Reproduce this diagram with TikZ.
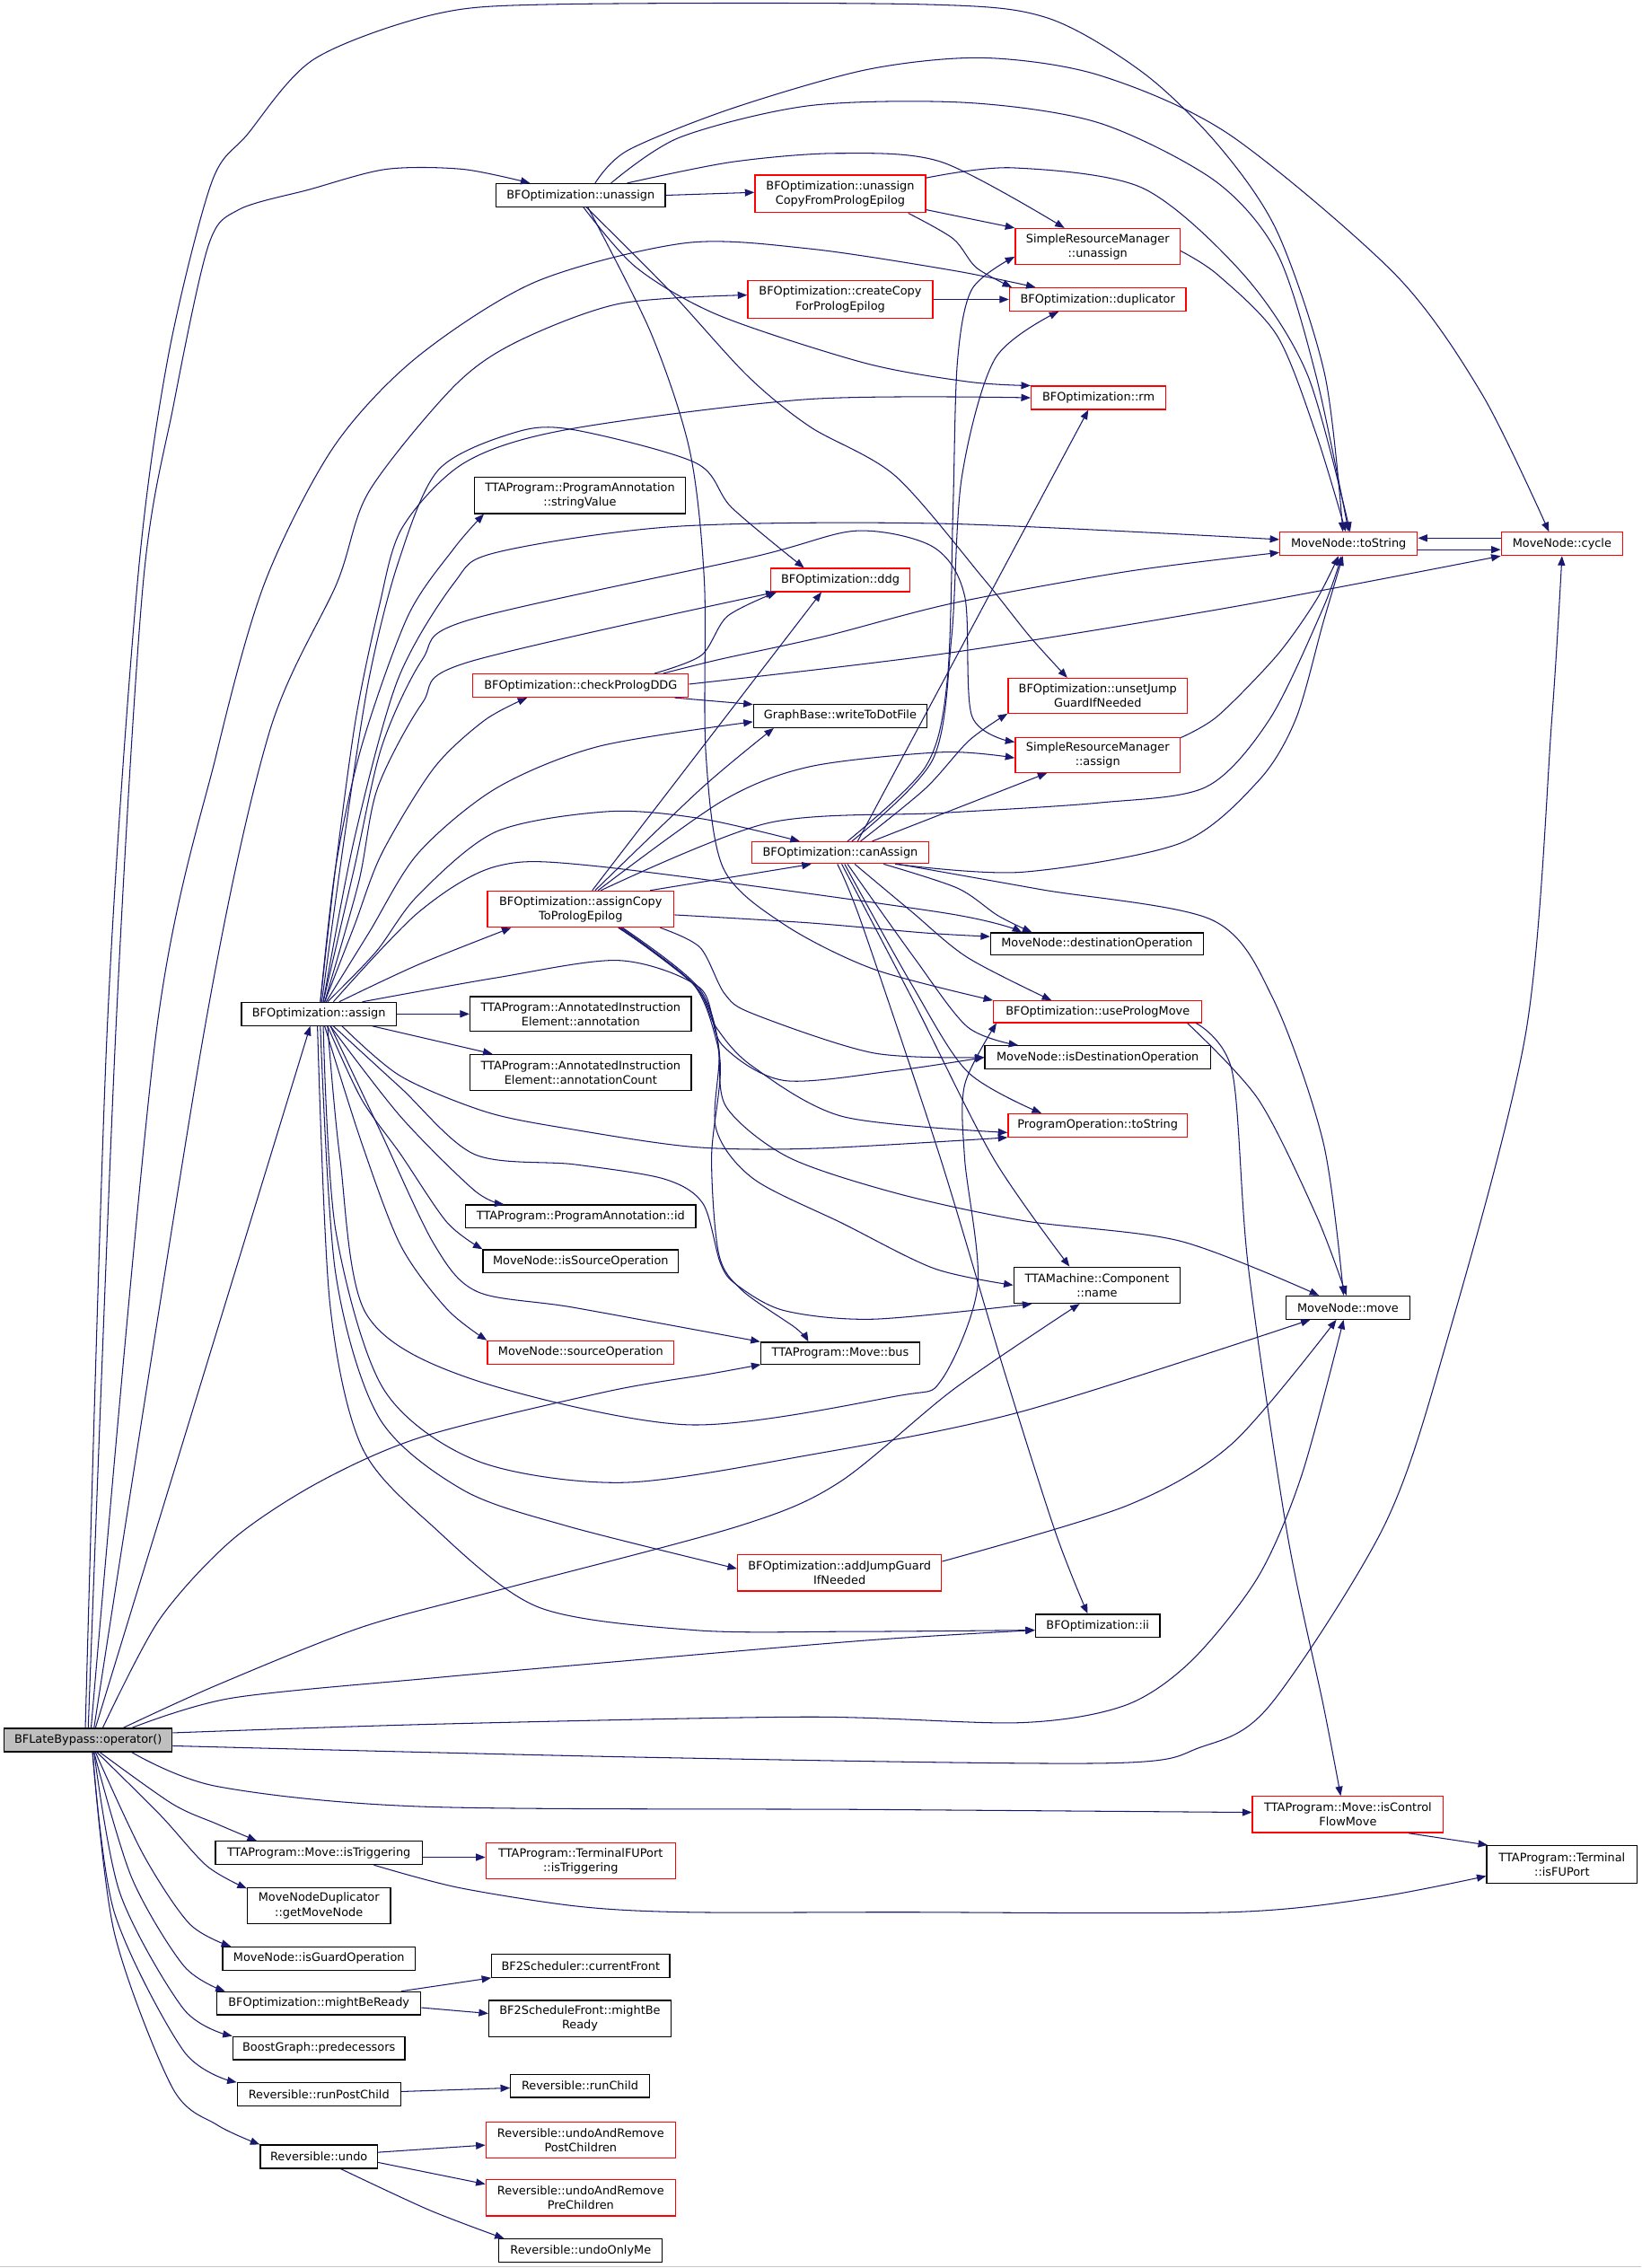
\documentclass[tikz,border=0pt]{standalone}
\usepackage{fontspec}
\newfontfamily\dvfont{DejaVu Sans}
\usetikzlibrary{arrows.meta}
\definecolor{ecol}{HTML}{191970}
\definecolor{ogray}{HTML}{BFBFBF}
\newcommand{\mkbox}[7]{%
 \pgfmathsetmacro{\bxcx}{(#3+#4)/2}%
 \pgfmathsetmacro{\bxcy}{(#5+#6)/2}%
 \pgfmathsetmacro{\bxw}{#4-#3}%
 \pgfmathsetmacro{\bxh}{#6-#5}%
 \node[#2, minimum width=\bxw pt, minimum height=\bxh pt] (#1) at (\bxcx,\bxcy) {#7};}
\tikzset{
 edge/.style={draw=ecol, line width=0.65pt, line join=round, -{Triangle[length=6.5pt,width=5pt]}},
 box/.style={draw=black, line width=0.8pt, inner sep=0pt, align=center, fill=white, font=\dvfont\fontsize{8}{10}\selectfont},
 rbox/.style={box, draw=red},
 gbox/.style={box, fill=ogray},
}
\begin{document}
\begin{tikzpicture}[x=1pt,y=-1pt]
\useasboundingbox (0,0) rectangle (1135,1568);
\fill[white] (0,0) rectangle (1135,1568);
\draw[gray!45, line width=1pt] (0,1567) -- (1135,1567);
% nodes
\mkbox{O}{gbox}{3}{119}{1195}{1211}{BFLateBypass::operator()}
\mkbox{U}{box}{343}{460}{127}{143}{BFOptimization::unassign}
\mkbox{UC}{rbox}{522}{640}{121}{147}{BFOptimization::unassign\\CopyFromPrologEpilog}
\mkbox{SRMu}{rbox}{702}{816}{158}{183}{SimpleResourceManager\\::unassign}
\mkbox{dup}{rbox}{698}{820}{199}{215}{BFOptimization::duplicator}
\mkbox{cc}{rbox}{517}{645}{194}{220}{BFOptimization::createCopy\\ForPrologEpilog}
\mkbox{rm}{rbox}{713}{806}{267}{283}{BFOptimization::rm}
\mkbox{ts}{rbox}{885}{980}{368}{384}{MoveNode::toString}
\mkbox{cyc}{rbox}{1038}{1122}{368}{384}{MoveNode::cycle}
\mkbox{sv}{box}{328}{474}{330}{355}{TTAProgram::ProgramAnnotation\\::stringValue}
\mkbox{ddg}{rbox}{533}{629}{393}{409}{BFOptimization::ddg}
\mkbox{cpd}{rbox}{327}{476}{466}{482}{BFOptimization::checkPrologDDG}
\mkbox{wdf}{box}{521}{641}{487}{503}{GraphBase::writeToDotFile}
\mkbox{ujg}{rbox}{697}{821}{469}{493}{BFOptimization::unsetJump\\GuardIfNeeded}
\mkbox{SRMa}{rbox}{702}{816}{510}{534}{SimpleResourceManager\\::assign}
\mkbox{ca}{rbox}{520}{642}{582}{597}{BFOptimization::canAssign}
\mkbox{acp}{rbox}{337}{466}{616}{641}{BFOptimization::assignCopy\\ToPrologEpilog}
\mkbox{dop}{box}{685}{832}{645}{660}{MoveNode::destinationOperation}
\mkbox{asg}{box}{167}{274}{693}{709}{BFOptimization::assign}
\mkbox{ann}{box}{325}{478}{689}{713}{TTAProgram::AnnotatedInstruction\\Element::annotation}
\mkbox{upm}{rbox}{687}{831}{692}{707}{BFOptimization::usePrologMove}
\mkbox{annc}{box}{325}{478}{729}{754}{TTAProgram::AnnotatedInstruction\\Element::annotationCount}
\mkbox{ido}{box}{681}{837}{723}{739}{MoveNode::isDestinationOperation}
\mkbox{pot}{rbox}{697}{821}{770}{786}{ProgramOperation::toString}
\mkbox{pid}{box}{322}{481}{833}{849}{TTAProgram::ProgramAnnotation::id}
\mkbox{iso}{box}{334}{469}{864}{880}{MoveNode::isSourceOperation}
\mkbox{nm}{box}{701}{816}{876}{901}{TTAMachine::Component\\::name}
\mkbox{mv}{box}{889}{975}{896}{912}{MoveNode::move}
\mkbox{so}{rbox}{337}{466}{927}{943}{MoveNode::sourceOperation}
\mkbox{bus}{box}{526}{636}{928}{943}{TTAProgram::Move::bus}
\mkbox{ajg}{rbox}{510}{651}{1075}{1100}{BFOptimization::addJumpGuard\\IfNeeded}
\mkbox{ii}{box}{716}{802}{1116}{1132}{BFOptimization::ii}
\mkbox{icf}{rbox}{866}{998}{1242}{1267}{TTAProgram::Move::isControl\\FlowMove}
\mkbox{itr}{box}{149}{292}{1273}{1289}{TTAProgram::Move::isTriggering}
\mkbox{tfp}{rbox}{336}{467}{1274}{1299}{TTAProgram::TerminalFUPort\\::isTriggering}
\mkbox{ifu}{box}{1028}{1132}{1276}{1302}{TTAProgram::Terminal\\::isFUPort}
\mkbox{gmn}{box}{171}{270}{1305}{1330}{MoveNodeDuplicator\\::getMoveNode}
\mkbox{igo}{box}{154}{287}{1346}{1362}{MoveNode::isGuardOperation}
\mkbox{cf}{box}{340}{463}{1351}{1367}{BF2Scheduler::currentFront}
\mkbox{mbr}{box}{150}{291}{1377}{1393}{BFOptimization::mightBeReady}
\mkbox{bsf}{box}{338}{464}{1383}{1408}{BF2ScheduleFront::mightBe\\Ready}
\mkbox{pred}{box}{161}{280}{1408}{1424}{BoostGraph::predecessors}
\mkbox{rpc}{box}{164}{277}{1440}{1456}{Reversible::runPostChild}
\mkbox{rc}{box}{353}{449}{1434}{1450}{Reversible::runChild}
\mkbox{uarpost}{rbox}{336}{467}{1467}{1492}{Reversible::undoAndRemove\\PostChildren}
\mkbox{undo}{box}{180}{261}{1483}{1499}{Reversible::undo}
\mkbox{uarpre}{rbox}{336}{467}{1507}{1532}{Reversible::undoAndRemove\\PreChildren}
\mkbox{uom}{box}{345}{458}{1548}{1564}{Reversible::undoOnlyMe}
% ---- edges from BFLateBypass::operator() ----
\draw[edge] plot[smooth] coordinates {([xshift=-2pt]O.north) (74,714) (95,403) (116,248) (146,127) (171,93) (217,41) (300,10) (383,3) (637,3) (723,12) (790,50) (842,100) (883,160) (916,259) ([xshift=-4pt]ts.north)};
\draw[edge] plot[smooth] coordinates {(O.north) (80,714) (99,403) (120,280) (144,170) (165,145) (214,131) (267,117) (320,117) ([xshift=-35pt]U.north)};
\draw[edge] plot[smooth] coordinates {([xshift=2pt]O.north) (108,714) (150,520) (183,403) (230,310) (287,248) (370,195) (474,168) (560,172) (659,187) ([xshift=-43pt]dup.north)};
\draw[edge] plot[smooth] coordinates {([xshift=4pt]O.north) (141,714) (186,507) (233,403) (255,340) (313,268) (356,237) (428,210) ([yshift=3pt]cc.west)};
\draw[edge] ([xshift=5pt]O.north) -- ([xshift=-6pt]asg.south);
\draw[edge] plot[smooth] coordinates {([xshift=10pt]O.north) (110,1120) (160,1065) (220,1025) (293,993) (420,962) (490,950) ([xshift=-55pt]bus.south)};
\draw[edge] plot[smooth] coordinates {([xshift=24pt]O.north) (150,1165) (250,1125) (346,1099) (511,1055) (580,1025) (660,960) ([xshift=-12pt]nm.south)};
\draw[edge] plot[smooth] coordinates {([xshift=30pt]O.north) (160,1174) (300,1160) (435,1148) (600,1134) ([yshift=-3pt]ii.west)};
\draw[edge] plot[smooth] coordinates {([yshift=5pt]O.east) (300,1192) (558,1187) (705,1191) (778,1179) (824,1148) (870,1090) (900,1020) ([xshift=-3pt]mv.south)};
\draw[edge] plot[smooth] coordinates {([yshift=-4pt]O.east) (450,1215) (764,1219) (830,1208) (878,1179) (957,1055) (999,932) (1055,714) (1073,497) (cyc.south)};
\draw[edge] plot[smooth] coordinates {([xshift=30pt]O.south) (150,1235) (292,1249) (600,1251) ([yshift=1.5pt]icf.west)};
\draw[edge] plot[smooth] coordinates {([xshift=8pt]O.south) (119,1247) (150,1261) ([xshift=-43pt]itr.north)};
\draw[edge] plot[smooth] coordinates {([xshift=6pt]O.south) (111,1255) (143,1290) ([yshift=-1pt]gmn.north west)};
\draw[edge] plot[smooth] coordinates {([xshift=5pt]O.south) (99,1282) (131,1330) ([xshift=6pt]igo.north west)};
\draw[edge] plot[smooth] coordinates {([xshift=4pt]O.south) (91,1298) (127,1359) ([xshift=6pt]mbr.north west)};
\draw[edge] plot[smooth] coordinates {([xshift=4pt]O.south) (83,1309) (127,1389) (pred.north west)};
\draw[edge] plot[smooth] coordinates {([xshift=3pt]O.south) (79,1322) (127,1418) (rpc.north west)};
\draw[edge] plot[smooth] coordinates {([xshift=3pt]O.south) (79,1336) (119,1443) (150,1469) (undo.north west)};
% ---- BFOptimization::unassign ----
\draw[edge] (U.east) -- ([yshift=1pt]UC.west);
\draw[edge] plot[smooth] coordinates {([xshift=32pt]U.north) (506,112) (579,106) (651,112) ([xshift=-23pt]SRMu.north)};
\draw[edge] plot[smooth] coordinates {([xshift=21pt]U.north) (470,95) (560,73) (669,71) (760,85) (840,125) (883,175) (910,260) (ts.north)};
\draw[edge] plot[smooth] coordinates {([xshift=10pt]U.north) (434,104) (506,75) (600,48) (680,40) (760,52) (850,93) (965,190) (1025,273) ([xshift=-9pt]cyc.north)};
\draw[edge] plot[smooth] coordinates {([xshift=2pt]U.south) (440,185) (497,218) (598,251) (670,264) (rm.north west)};
\draw[edge] plot[smooth] coordinates {([xshift=4pt]U.south) (463,201) (517,260) (560,295) (619,329) (680,400) (712,440) ([xshift=-21pt]ujg.north)};
\draw[edge] plot[smooth] coordinates {([xshift=5pt]U.south) (450,230) (477,312) (487,402) (488,520) (500,600) (542,639) (604,670) (upm.north west)};
% ---- unassignCopyFromPrologEpilog ----
\draw[edge] ([yshift=-11pt]UC.east) -- (SRMu.north west);
\draw[edge] plot[smooth] coordinates {([xshift=47pt]UC.south) (659,165) (675,185) ([xshift=2pt]dup.north west)};
\draw[edge] plot[smooth] coordinates {([yshift=11pt]UC.east) (700,116) (790,130) (860,190) (904,259) ([xshift=1pt]ts.north)};
\draw[edge] (cc.east) -- (dup.west);
\draw[edge] plot[smooth] coordinates {([yshift=-3pt]SRMu.east) (842,190) (883,232) (910,300) ([xshift=-2pt]ts.north)};
\draw[edge] plot[smooth] coordinates {([yshift=12pt]SRMa.east) (842,495) (883,453) (910,415) ([xshift=-7pt]ts.south)};
\draw[edge] ([yshift=-4pt]ts.east) -- ([yshift=-4pt]cyc.west);
\draw[edge] ([yshift=4pt]cyc.west) -- ([yshift=4pt]ts.east);
% ---- BFOptimization::assign ----
\draw[edge] plot[smooth] coordinates {([xshift=1pt]asg.north) (232,600) (246,497) (262,420) (278,365) (321,320) (392,297) (559,276) (rm.west)};
\draw[edge] plot[smooth] coordinates {([xshift=2pt]asg.north) (238,580) (255,470) (275,390) (303,325) (356,299) (396,297) (481,320) (506,351) ([xshift=-25pt]ddg.north)};
\draw[edge] plot[smooth] coordinates {([xshift=1pt]asg.north) (232,600) (250,516) (282,426) (314,379) ([xshift=7pt]sv.south west)};
\draw[edge] plot[smooth] coordinates {([xshift=3pt]asg.north) (245,580) (275,470) (314,403) (343,382) (467,364) (652,362) ([yshift=3pt]ts.west)};
\draw[edge] plot[smooth] coordinates {([xshift=3pt]asg.north) (245,600) (264,516) (292,456) (323,429) (521,385) (592,367) (645,378) (667,412) (672,495) ([yshift=9pt]SRMa.west)};
\draw[edge] plot[smooth] coordinates {([xshift=4pt]asg.north) (248,610) (261,545) (292,486) (323,458) ([xshift=-45pt]ddg.south)};
\draw[edge] plot[smooth] coordinates {([xshift=4pt]asg.north) (245,640) (264,590) (300,531) (335,498) ([xshift=-37pt]cpd.south)};
\draw[edge] plot[smooth] coordinates {([xshift=5pt]asg.north) (255,645) (289,590) (343,545) (414,516) ([yshift=-4pt]wdf.west)};
\draw[edge] plot[smooth] coordinates {([xshift=6pt]asg.north) (260,658) (289,619) (343,575) (421,561) (485,566) ([xshift=-28pt]ca.north)};
\draw[edge] plot[smooth] coordinates {([xshift=14pt]asg.north) (289,667) ([xshift=-48pt]acp.south)};
\draw[edge] plot[smooth] coordinates {([xshift=10pt]asg.north) (289,631) (343,599) (414,599) (652,631) ([xshift=-52pt]dop.north)};
\draw[edge] plot[smooth] coordinates {([xshift=30pt]asg.north) (343,676) (428,664) (484,683) (499,722) (542,747) (620,740) (ido.west)};
\draw[edge] (asg.east) -- (ann.west);
\draw[edge] ([xshift=37pt]asg.south) -- ([xshift=-61pt]annc.north);
\draw[edge] plot[smooth] coordinates {([xshift=16pt]asg.south) (277,744) (337,769) (397,781) (480,793) (563,794) (pot.south west)};
\draw[edge] plot[smooth] coordinates {([xshift=10pt]asg.south) (277,752) (328,798) (397,805) (459,815) (486,832) (498,873) (509,888) (542,906) (604,912) ([xshift=-45pt]nm.south)};
\draw[edge] plot[smooth] coordinates {([xshift=6pt]asg.south) (235,800) (253,908) (325,953) (475,985) (621,965) (651,954) (676,889) (667,801) (667,750) ([xshift=-70pt]upm.south)};
\draw[edge] plot[smooth] coordinates {([xshift=8pt]asg.south) (277,772) (328,823) ([xshift=-53pt]pid.north)};
\draw[edge] plot[smooth] coordinates {([xshift=6pt]asg.south) (250,760) (277,798) (309,845) (iso.north west)};
\draw[edge] plot[smooth] coordinates {([xshift=4pt]asg.south) (250,790) (277,861) (309,905) (so.north west)};
\draw[edge] plot[smooth] coordinates {([xshift=8pt]asg.south) (262,780) (300,860) (330,893) (397,904) (bus.north west)};
\draw[edge] plot[smooth] coordinates {([xshift=3pt]asg.south) (232,850) (265,960) (330,1010) (430,1025) (559,1006) (706,976) ([xshift=-26pt]mv.south)};
\draw[edge] plot[smooth] coordinates {([xshift=1pt]asg.south) (232,880) (262,980) (320,1030) (392,1055) ([yshift=3pt]ajg.west)};
\draw[edge] plot[smooth] coordinates {([xshift=-1pt]asg.south) (228,900) (250,1000) (299,1055) (372,1111) (480,1127) (585,1128) ([yshift=-3pt]ii.west)};
% ---- checkPrologDDG ----
\draw[edge] plot[smooth] coordinates {([xshift=51pt]cpd.north) (485,453) (503,426) ([xshift=-44pt]ddg.south)};
\draw[edge] plot[smooth] coordinates {([xshift=57pt]cpd.north) (497,456) (570,440) (659,417) (780,395) ([yshift=-6pt]ts.west)};
\draw[edge] plot[smooth] coordinates {([yshift=1pt]cpd.east) (652,452) (850,420) (cyc.south west)};
\draw[edge] ([xshift=65pt]cpd.south) -- ([yshift=8pt]wdf.west);
% ---- assignCopyToPrologEpilog ----
\draw[edge] ([xshift=8pt]acp.north) -- ([xshift=-13pt]ddg.south);
\draw[edge] plot[smooth] coordinates {([xshift=10pt]acp.north) (485,545) ([xshift=-46pt]wdf.south)};
\draw[edge] plot[smooth] coordinates {([xshift=12pt]acp.north) (499,554) (560,530) (652,520) ([yshift=-2pt]SRMa.west)};
\draw[edge] plot[smooth] coordinates {([xshift=14pt]acp.north) (531,569) (652,562) (760,555) (834,544) (878,497) (915,420) ([xshift=-5pt]ts.south)};
\draw[edge] ([xshift=48pt]acp.north) -- ([xshift=-20pt]ca.south);
\draw[edge] plot[smooth] coordinates {([yshift=-4pt]acp.east) (559,638) (640,645) ([yshift=5pt]dop.west)};
\draw[edge] plot[smooth] coordinates {([xshift=55pt]acp.south) (484,655) (501,687) (521,701) (604,728) (ido.west)};
\draw[edge] plot[smooth] coordinates {([xshift=27pt]acp.south) (480,681) (495,710) (520,737) (583,772) ([yshift=-5pt]pot.west)};
\draw[edge] plot[smooth] coordinates {([xshift=28pt]acp.south) (482,683) (497,725) (495,780) (521,815) (583,846) (646,877) (nm.west)};
\draw[edge] plot[smooth] coordinates {([xshift=29pt]acp.south) (484,684) (498,735) (492,800) (497,867) (513,892) (550,918) ([xshift=-22pt]bus.north)};
\draw[edge] plot[smooth] coordinates {([xshift=26pt]acp.south) (479,680) (496,722) (502,765) (545,800) (620,825) (708,844) (816,858) ([xshift=-20pt]mv.north)};
% ---- canAssign ----
\draw[edge] plot[smooth] coordinates {([xshift=5pt]ca.north) (640,530) (655,470) (659,350) (662,250) (672,200) ([yshift=-7pt]SRMu.west)};
\draw[edge] plot[smooth] coordinates {([xshift=8pt]ca.north) (645,525) (658,440) (665,330) (688,248) ([xshift=-27pt]dup.south)};
\draw[edge] ([xshift=12pt]ca.north) -- ([xshift=-7pt]rm.south);
\draw[edge] plot[smooth] coordinates {([xshift=14pt]ca.north) (640,545) (670,512) (ujg.south west)};
\draw[edge] ([xshift=22pt]ca.north) -- ([xshift=-35pt]SRMa.south);
\draw[edge] plot[smooth] coordinates {([xshift=38pt]ca.south) (706,603) (816,583) (870,540) (896,497) (915,430) ([xshift=-4pt]ts.south)};
\draw[edge] plot[smooth] coordinates {([xshift=40pt]ca.south) (720,615) (838,636) (880,690) (915,790) ([xshift=-3pt]mv.north)};
\draw[edge] plot[smooth] coordinates {([xshift=30pt]ca.south) (662,614) (690,633) ([xshift=-45pt]dop.north)};
\draw[edge] plot[smooth] coordinates {([xshift=10pt]ca.south) (630,630) (669,662) ([xshift=-32pt]upm.north)};
\draw[edge] plot[smooth] coordinates {([xshift=5pt]ca.south) (632,662) (669,710) ([xshift=-55pt]ido.north)};
\draw[edge] plot[smooth] coordinates {([xshift=3pt]ca.south) (630,680) (669,741) ([xshift=-39pt]pot.north)};
\draw[edge] plot[smooth] coordinates {([xshift=1pt]ca.south) (632,693) (687,801) ([xshift=-19pt]nm.north)};
\draw[edge] plot[smooth] coordinates {([xshift=-2pt]ca.south) (596,639) (650,800) (695,950) (730,1060) ([xshift=-7pt]ii.north)};
% ---- others ----
\draw[edge] plot[smooth] coordinates {([xshift=62pt]upm.south) (870,760) (910,840) ([xshift=-1pt]mv.north)};
\draw[edge] plot[smooth] coordinates {([xshift=68pt]upm.south) (852,741) (863,875) (890,1060) (915,1179) ([xshift=-5pt]icf.north)};
\draw[edge] plot[smooth] coordinates {([yshift=8pt]ajg.east) (779,1041) (852,998) ([xshift=-8pt]mv.south)};
\draw[edge] ([xshift=42pt]icf.south) -- ([xshift=1pt]ifu.north west);
\draw[edge] ([yshift=-3pt]itr.east) -- ([yshift=2.5pt]tfp.west);
\draw[edge] plot[smooth] coordinates {([xshift=38pt]itr.south) (317,1305) (400,1318) (475,1322) (621,1322) (850,1322) (950,1312) ([yshift=-8pt]ifu.west)};
\draw[edge] ([xshift=57pt]mbr.north) -- (cf.south west);
\draw[edge] ([yshift=-3pt]mbr.east) -- ([yshift=3.5pt]bsf.west);
\draw[edge] ([yshift=2pt]rpc.east) -- ([yshift=-1.5pt]rc.west);
\draw[edge] ([yshift=3pt]undo.east) -- ([yshift=-3.5pt]uarpost.west);
\draw[edge] ([yshift=-4pt]undo.east) -- ([yshift=9.5pt]uarpre.west);
\draw[edge] plot[smooth] coordinates {([xshift=15pt]undo.south) (297,1528) ([xshift=4pt]uom.north west)};
\end{tikzpicture}
\end{document}
